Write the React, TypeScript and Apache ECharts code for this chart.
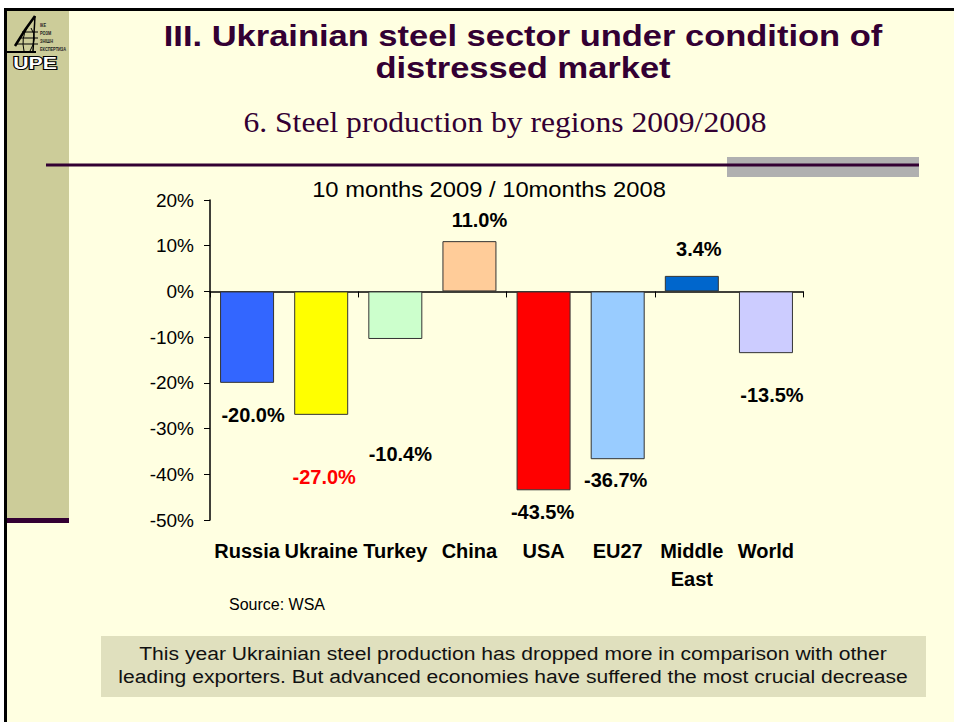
import { useEffect, useRef } from 'react';
import * as echarts from 'echarts';

const categories = ['Russia', 'Ukraine', 'Turkey', 'China', 'USA', 'EU27', 'Middle East', 'World'];
const values = [-20.0, -27.0, -10.4, 11.0, -43.5, -36.7, 3.4, -13.5];
const barColors = ['#3366FF', '#FFFF00', '#CCFFCC', '#FFCC99', '#FF0000', '#99CCFF', '#0066CC', '#CCCCFF'];
const labelColors = ['#000', '#FF0000', '#000', '#000', '#000', '#000', '#000', '#000'];
const labelOffsets = [[6, 17], [3, 47], [5, 100], [10, -6], [-1, 7], [-2, 6], [7, -12], [6, 27]];
const yMin = -50;
const yMax = 20;
const yStep = 10;

const titleLines = ['III. Ukrainian steel sector under condition of', 'distressed market'];
const subtitle = '6. Steel production by regions 2009/2008';
const chartTitle = '10 months 2009 / 10months 2008';
const sourceText = 'Source: WSA';
const noteLines = [
  'This year Ukrainian steel production has dropped more in comparison with other',
  'leading exporters. But advanced economies have suffered the most crucial decrease',
];
const logoLines = ['ІКЕ', 'РОЗМ', 'ЗНІШН', 'ЕКСПЕРТИЗА'];

const SANS = "'Liberation Sans', Arial, Helvetica, sans-serif";
const SERIF = "'Liberation Serif', 'Times New Roman', serif";

export default function App() {
  const ref = useRef<HTMLDivElement>(null);

  useEffect(() => {
    const chart = echarts.init(ref.current!, null, { renderer: 'svg' });
    const purple = '#330033';

    const txt = (text: string, x: number, y: number, fontSize: number, opts: any = {}, scaleX = 1) => ({
      type: 'text',
      z: opts.z ?? 10,
      x,
      y,
      scaleX,
      style: {
        text,
        x: 0,
        y: 0,
        fontSize,
        fontWeight: opts.fontWeight ?? 'normal',
        fontFamily: opts.fontFamily ?? SANS,
        fill: opts.fill ?? '#000',
        stroke: opts.stroke,
        lineWidth: opts.lineWidth,
        align: opts.align ?? 'center',
        verticalAlign: 'middle',
      },
    });

    const graphic: any[] = [
      { type: 'rect', z: -100, shape: { x: 4, y: 8, width: 950, height: 714 }, style: { fill: '#FFFFE1' } },
      { type: 'rect', z: -90, shape: { x: 4, y: 8, width: 950, height: 3 }, style: { fill: '#000' } },
      { type: 'rect', z: -90, shape: { x: 4, y: 8, width: 3, height: 714 }, style: { fill: '#000' } },
      { type: 'rect', z: -90, shape: { x: 7, y: 11, width: 62, height: 507 }, style: { fill: '#CCCC99' } },
      { type: 'rect', z: -90, shape: { x: 7, y: 518, width: 62, height: 5 }, style: { fill: purple } },
      { type: 'rect', z: -90, shape: { x: 727, y: 157, width: 192, height: 20 }, style: { fill: '#B0B0B0' } },
      { type: 'line', z: -80, shape: { x1: 46, y1: 165, x2: 919, y2: 165 }, style: { stroke: purple, lineWidth: 3 } },
      // logo
      { type: 'polyline', z: -70, shape: { points: [[35, 16], [25, 30], [15, 46]] }, style: { stroke: '#000', lineWidth: 2.5, fill: 'none' } },
      { type: 'line', z: -70, shape: { x1: 35, y1: 16, x2: 33, y2: 51 }, style: { stroke: '#000', lineWidth: 1.5 } },
      { type: 'line', z: -70, shape: { x1: 22, y1: 32, x2: 38, y2: 32 }, style: { stroke: '#000', lineWidth: 1 } },
      { type: 'line', z: -70, shape: { x1: 19, y1: 38, x2: 38, y2: 38 }, style: { stroke: '#000', lineWidth: 1 } },
      { type: 'line', z: -70, shape: { x1: 16, y1: 44, x2: 38, y2: 44 }, style: { stroke: '#000', lineWidth: 1 } },
      { type: 'bezierCurve', z: -70, shape: { x1: 27, y1: 28, x2: 24, y2: 51, cpx1: 21, cpy1: 38 }, style: { stroke: '#000', lineWidth: 1, fill: 'none' } },
      { type: 'bezierCurve', z: -70, shape: { x1: 31, y1: 28, x2: 30, y2: 51, cpx1: 38, cpy1: 38 }, style: { stroke: '#000', lineWidth: 1, fill: 'none' } },
      { type: 'line', z: -70, shape: { x1: 7, y1: 52, x2: 36, y2: 52 }, style: { stroke: '#000', lineWidth: 2 } },
      ...logoLines.map((t, i) => txt(t, 40, 24.5 + i * 8, 6, { fontWeight: 'bold', fill: '#222', align: 'left', z: -70 }, 0.65)),
      txt('UPE', 35, 63, 16, { fontWeight: 'bold', fill: '#fff', stroke: '#000', lineWidth: 2, z: -70 }, 1.33),
      // titles
      ...titleLines.map((t, i) => txt(t, 523, 36 + i * 32, 30, { fontWeight: 'bold', fill: purple }, 1.15)),
      txt(subtitle, 505, 122, 29, { fontFamily: SERIF, fill: purple }, 1.09),
      txt(chartTitle, 489, 189, 22, {}, 1.08),
      txt(sourceText, 229, 604, 16, { align: 'left' }),
      { type: 'rect', z: -80, shape: { x: 101, y: 636, width: 825, height: 61 }, style: { fill: '#E0E0BE' } },
      ...noteLines.map((t, i) => txt(t, 513, 653 + i * 23, 19, { fill: '#111' }, 1.11)),
    ];

    chart.setOption({
      animation: false,
      backgroundColor: '#FFFFFF',
      textStyle: { fontFamily: SANS },
      graphic: { elements: graphic },
      grid: { left: 210, right: 151, top: 200, bottom: 202, containLabel: false },
      xAxis: [
        {
          type: 'category',
          data: categories,
          position: 'bottom',
          axisLine: { onZero: true, lineStyle: { color: '#000', width: 1.5 } },
          axisTick: { show: true, length: 6, lineStyle: { color: '#000', width: 1 } },
          axisLabel: { show: false },
          splitLine: { show: false },
        },
        {
          type: 'category',
          data: categories,
          position: 'bottom',
          axisLine: { show: false, onZero: false },
          axisTick: { show: false },
          splitLine: { show: false },
          axisLabel: {
            interval: 0,
            margin: 17,
            fontSize: 20,
            fontWeight: 'bold',
            lineHeight: 28,
            color: '#000',
            fontFamily: SANS,
            formatter: (v: string) => v.replace(' ', '\n'),
          },
        },
      ],
      yAxis: {
        type: 'value',
        min: yMin,
        max: yMax,
        interval: yStep,
        axisLine: { show: true, lineStyle: { color: '#000', width: 1.5 } },
        axisTick: { show: true, length: 6, lineStyle: { color: '#000' } },
        splitLine: { show: false },
        axisLabel: { fontSize: 19, color: '#000', margin: 16, fontFamily: SANS, formatter: '{value}%' },
      },
      series: [
        {
          type: 'bar',
          xAxisIndex: 0,
          barWidth: 54,
          data: values.map((v, i) => ({
            value: v,
            itemStyle: { color: barColors[i], borderColor: '#333', borderWidth: 1 },
            label: { position: v >= 0 ? 'top' : 'bottom', offset: labelOffsets[i], color: labelColors[i] },
          })),
          label: {
            show: true,
            distance: 5,
            fontSize: 20,
            lineHeight: 20,
            fontWeight: 'bold',
            fontFamily: SANS,
            formatter: (p: any) => `${Number(p.value).toFixed(1)}%`,
          },
        },
      ],
    });

    return () => chart.dispose();
  }, []);

  return <div ref={ref} style={{ position: 'fixed', left: 0, top: 0, width: 954, height: 722 }} />;
}
